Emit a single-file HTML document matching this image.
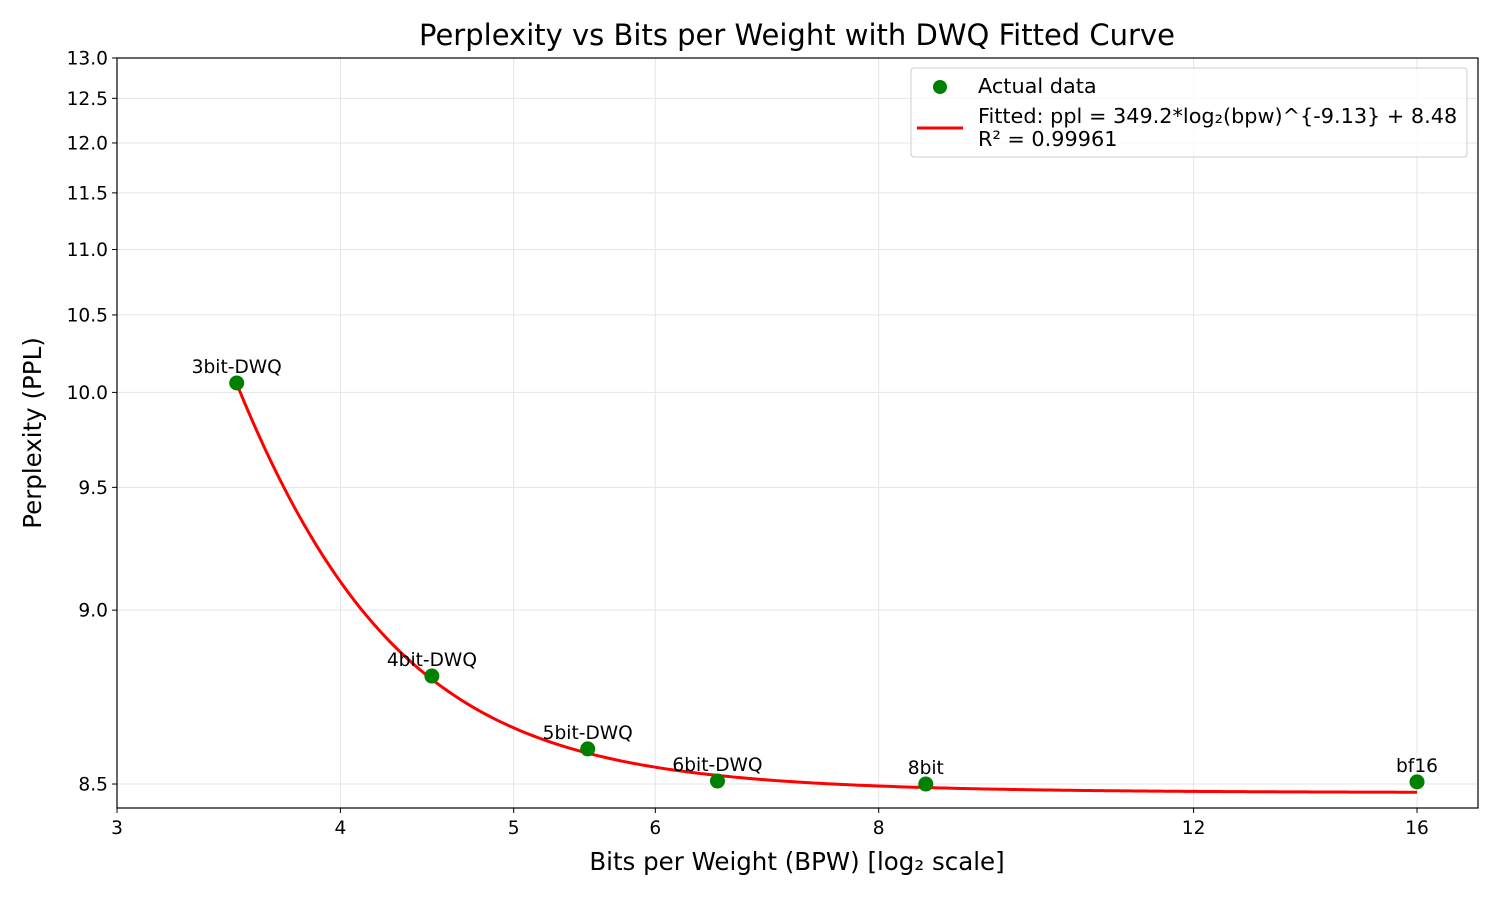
<!DOCTYPE html>
<html><head><meta charset="utf-8">
<style>
body{margin:0;background:#fff;}
svg text{font-family:"DejaVu Sans","Liberation Sans",sans-serif;fill:#000;}
</style></head>
<body>
<svg id="chart" width="1500" height="900" xmlns="http://www.w3.org/2000/svg">
<rect width="1500" height="900" fill="#fff"/>
<text x="797" y="45" font-size="29" text-anchor="middle">Perplexity vs Bits per Weight with DWQ Fitted Curve</text>
<text x="797" y="870" font-size="24.5" text-anchor="middle">Bits per Weight (BPW) [log₂ scale]</text>
<text transform="translate(41,433) rotate(-90)" font-size="24.5" text-anchor="middle">Perplexity (PPL)</text>
<g id="grid"></g><g id="marks"></g><g id="axes"></g>
<g>
<rect x="911" y="68" width="556" height="89" rx="3" fill="#fff" fill-opacity="0.8" stroke="#ccc"/>
<circle cx="940" cy="87" r="7" fill="green"/>
<text x="978" y="93" font-size="20.8">Actual data</text>
<line x1="917" y1="128" x2="963" y2="128" stroke="red" stroke-width="3"/>
<text x="978" y="123" font-size="20.8">Fitted: ppl = 349.2*log₂(bpw)^{-9.13} + 8.48</text>
<text x="978" y="146" font-size="20.8">R² = 0.99961</text>
</g>
</svg>
<script>
const labels=["3bit-DWQ","4bit-DWQ","5bit-DWQ","6bit-DWQ","8bit","bf16"];
const bpw=[3.5,4.5,5.5,6.5,8.5,16];
const ppl=[10.056,8.786,8.585,8.507,8.5,8.505];
const fitA=[349.2];const fitB=[-9.13];const fitC=[8.48];
const xTicks=[3,4,5,6,8,12,16];
const yTicks=[8.5,9.0,9.5,10.0,10.5,11.0,11.5,12.0,12.5,13.0];

const L=117,R=1478,T=58,B=808;
const xs=v=>L+538.3*Math.log2(v/3);
const ys=v=>775.5-421.8*Math.log(v-7.52);
const NS="http://www.w3.org/2000/svg";
function mk(tag,attrs,parent){const e=document.createElementNS(NS,tag);for(const k in attrs)e.setAttribute(k,attrs[k]);parent.appendChild(e);return e;}
const grid=document.getElementById('grid'),marks=document.getElementById('marks'),axes=document.getElementById('axes');
xTicks.forEach(t=>{const x=xs(t);
 const g=mk('line',{x1:x,x2:x,y1:T,y2:B,stroke:'#e5e5e5','stroke-width':1},grid);
 
 
 mk('line',{x1:x,x2:x,y1:B,y2:B+5,stroke:'#000'},axes);
 const tx=mk('text',{x:x,y:B+26,'font-size':18.6,'text-anchor':'middle'},axes);tx.textContent=t;
 
 
});
yTicks.forEach(t=>{const y=ys(t);
 const g=mk('line',{x1:L,x2:R,y1:y,y2:y,stroke:'#e5e5e5','stroke-width':1},grid);
 
 
 mk('line',{x1:L-5,x2:L,y1:y,y2:y,stroke:'#000'},axes);
 const tx=mk('text',{x:L-9,y:y+6.5,'font-size':18.6,'text-anchor':'end'},axes);tx.textContent=t.toFixed(1);
 
 
});
const fr=mk('rect',{x:L,y:T,width:R-L,height:B-T,fill:'none',stroke:'#000','stroke-width':1.2},axes);


let d='';const x0=bpw[0],x1=bpw[bpw.length-1];
for(let i=0;i<=300;i++){const v=x0*Math.pow(x1/x0,i/300);const p=fitA[0]*Math.pow(Math.log2(v),fitB[0])+fitC[0];d+=(i?'L':'M')+xs(v).toFixed(2)+','+ys(p).toFixed(2);}
const path=mk('path',{d:d,fill:'none',stroke:'red','stroke-width':3},marks);


bpw.forEach((v,i)=>{
 const c=mk('circle',{cx:xs(v),cy:ys(ppl[i]),r:7.5,fill:'green'},marks);
 
 
 const t=mk('text',{x:xs(v),y:ys(ppl[i])-10,'font-size':18.6,'text-anchor':'middle'},marks);t.textContent=labels[i];
 
 
});
</script>
</body></html>
